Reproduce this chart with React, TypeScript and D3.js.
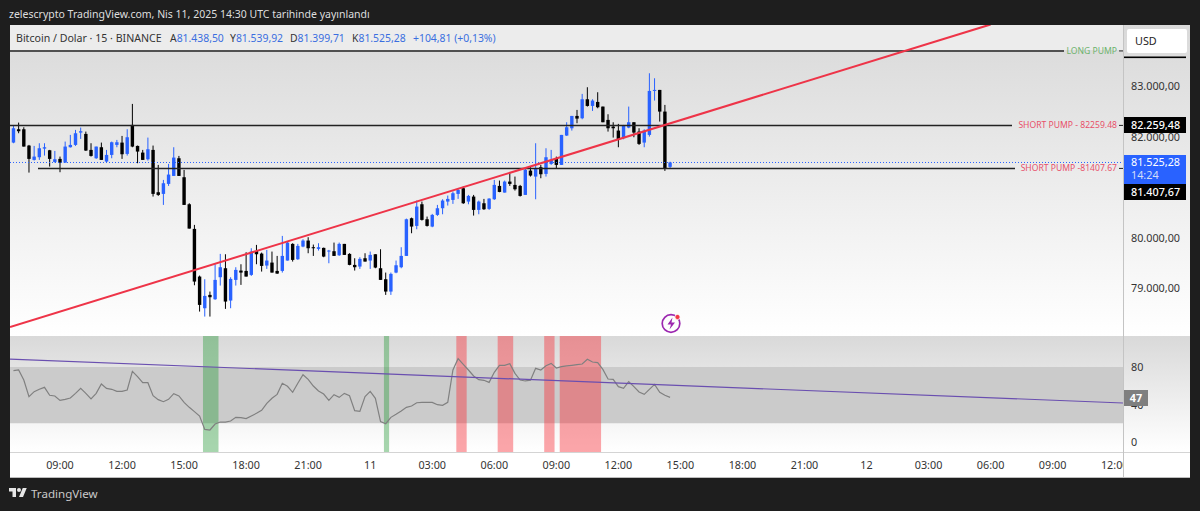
import React from "react";
import * as d3 from "d3";

// Bitcoin / Dolar, 15 min candles from Apr 10 06:45 to Apr 11 14:30 UTC
const firstCandle = new Date(Date.UTC(2025, 3, 10, 6, 45));

const opens = [
  81919, 82183, 82183, 81860, 81576, 81629, 81800, 81767, 81536, 81596,
  81523, 81827, 81873, 82117, 82091, 81774, 81609, 81827, 81543, 81675,
  81873, 81919, 81695, 82269, 81853, 81721, 81589, 81774, 80936, 80903,
  81101, 81259, 81609, 81233, 80698, 80210, 79266, 78639, 78903,
  78817, 79253, 79431, 78791, 79200, 79385, 79378, 79299, 79774, 79721,
  79484, 79543, 79378, 79378, 79583, 79913, 79609, 79860, 79979, 79847,
  79814, 79834, 79761, 79768, 79688, 79913, 79715, 79497, 79464, 79629,
  79583, 79708, 79431, 79213, 78969, 79345, 79451, 79675, 80421, 80269,
  80698, 80401, 80256, 80487, 80619, 80751, 80784, 80903, 81015, 80751,
  80850, 80586, 80718, 80606, 80797, 81061, 80929, 81147, 81081, 81061,
  80883, 81365, 81246, 81431, 81299, 81497, 81596, 81477, 82058, 82203,
  82447, 82401, 82777, 82645, 82724, 82632, 82368, 82236, 82157, 82005,
  82216, 82322, 82137, 81919, 82071, 82942, 82962, 82533, 81438.5,
];
const highs = [
  82249, 82315, 82223, 81873, 81853, 81906, 81906, 81774, 81754, 81642,
  81939, 82071, 82170, 82216, 82137, 81906, 81840, 81919, 81774, 81939,
  81972, 82051, 82183, 82685, 81860, 81774, 82018, 81860, 81477, 81180,
  81497, 81827, 81655, 81378, 80718, 80289, 79286, 79213, 78969,
  79510, 79715, 79708, 79253, 79451, 79510, 79748, 79827, 79893, 79741,
  79794, 79761, 79675, 80071, 79959, 79926, 79913, 80005, 80045, 79900,
  79926, 79840, 79794, 79939, 79939, 79913, 79728, 79629, 79649, 79728,
  79761, 79708, 79807, 79345, 79345, 79583, 79847, 80414, 80434, 80771,
  80751, 80454, 80507, 80685, 80797, 80870, 80949, 81002, 81048, 80883,
  80883, 80771, 80804, 80817, 81180, 81167, 81167, 81312, 81246, 81081,
  81411, 81444, 81906, 81477, 81807, 81774, 81642, 82071, 82322, 82447,
  82566, 82883, 83015, 82777, 82916, 82632, 82480, 82322, 82289, 82269,
  82632, 82322, 82203, 82183, 83292, 83193, 82962, 82665, 81539.92,
];
const lows = [
  81906, 82104, 81840, 81325, 81563, 81576, 81662, 81444, 81523, 81332,
  81523, 81820, 81853, 81992, 81754, 81642, 81596, 81576, 81530, 81609,
  81827, 81596, 81662, 81827, 81510, 81576, 81563, 80850, 80863, 80685,
  81061, 81259, 81259, 80685, 80216, 79094, 78573, 78474, 78474,
  78804, 79088, 78626, 78639, 79088, 79101, 79266, 79279, 79510, 79365,
  79418, 79345, 79319, 79345, 79583, 79563, 79596, 79847, 79728, 79675,
  79781, 79649, 79530, 79675, 79675, 79695, 79490, 79385, 79418, 79563,
  79418, 79431, 79200, 78903, 78903, 79332, 79431, 79675, 80124, 80203,
  80375, 80256, 80243, 80467, 80500, 80672, 80705, 80804, 80705, 80698,
  80474, 80500, 80586, 80586, 80784, 80936, 80929, 81061, 80969, 80850,
  80883, 81246, 80797, 81213, 81246, 81477, 81411, 81477, 82051, 82157,
  82302, 82381, 82632, 82546, 82599, 82322, 82137, 82018, 81827, 81985,
  82203, 82025, 81873, 81827, 82038, 82751, 82335, 81358, 81399.71,
];
const closes = [
  82203, 82144, 81840, 81596, 81642, 81807, 81827, 81596, 81589, 81523,
  81840, 81873, 82104, 82144, 81761, 81655, 81840, 81576, 81675, 81926,
  81926, 81688, 82025, 81840, 81741, 81576, 81787, 80903, 80883, 81114,
  81286, 81622, 81259, 80685, 80216, 79167, 78705, 78883, 78857,
  79200, 79451, 78771, 79220, 79398, 79345, 79266, 79761, 79708, 79477,
  79583, 79345, 79325, 79675, 79939, 79596, 79873, 79979, 79827, 79827,
  79847, 79662, 79781, 79675, 79913, 79695, 79497, 79451, 79616, 79563,
  79695, 79444, 79200, 78969, 79319, 79490, 79675, 80401, 80256, 80652,
  80388, 80269, 80487, 80619, 80771, 80804, 80916, 80982, 80718, 80863,
  80586, 80751, 80599, 80810, 81081, 80942, 81147, 81101, 80995, 80863,
  81378, 81266, 81411, 81292, 81629, 81576, 81477, 82071, 82223, 82447,
  82394, 82777, 82645, 82751, 82619, 82322, 82203, 82203, 81985, 82262,
  82322, 82117, 81893, 82157, 82942, 82962, 82533, 81411, 81525.28,
];

const rsiValues = [
  76.1, 76.8, 66.1, 48.4, 53.7, 56.2, 58.3, 49.8, 49.1, 44.4,
  45.5, 46.9, 51.9, 57.2, 51.9, 45.9, 51.9, 61.9, 57.2, 56.2,
  54.0, 54.0, 55.5, 75.4, 69.7, 63.3, 63.3, 49.4, 45.2, 43.0,
  45.5, 51.6, 49.1, 42.3, 37.0, 32.4, 27.7, 13.5, 12.8, 19.2,
  21.3, 21.3, 22.4, 26.3, 26.0, 24.9, 27.7, 30.6, 33.8, 41.2,
  46.6, 50.8, 62.6, 59.4, 53.0, 62.6, 71.8, 66.8, 59.7, 54.4,
  51.2, 44.4, 50.5, 47.6, 51.9, 49.4, 33.4, 32.7, 48.4, 54.0,
  46.6, 21.7, 19.5, 26.3, 29.5, 33.1,
  37.0, 38.4, 41.9, 42.3, 42.3, 42.3, 39.8, 39.1, 42.3, 76.8,
  88.9, 82.8, 76.8, 70.4, 66.5, 65.8, 63.6, 74.3, 81.8, 81.8,
  83.6, 73.2, 66.1, 65.1, 65.8, 78.6, 76.8, 81.4, 83.9, 78.9,
  80.4, 81.1, 81.8, 82.5, 83.2, 88.2, 85.3, 84.6, 77.5, 67.2,
  66.8, 59.0, 57.2, 64.4, 59.0, 53.3, 50.8, 56.2, 61.5, 53.0,
  49.8, 47.6,
];

// [first candle, candle count]
const greenSpans = [[37, 3], [72, 1]];
const redSpans = [[86, 2], [94, 3], [103, 2], [106, 8]];

const priceTicks = [83000, 82000, 80000, 79000];
const rsiTicks = [80, 40, 0];
const longPump = 83734;
const shortPumpHigh = 82259.48;
const shortPumpLow = 81407.67;
const lastPrice = 81525.28;

const trendTimes = [new Date(Date.UTC(2025, 3, 10, 6, 35)), new Date(Date.UTC(2025, 3, 12, 6, 0))];
const trendPrices = [78267, 84259];
const rsiTrendTimes = [new Date(Date.UTC(2025, 3, 10, 6, 35)), new Date(Date.UTC(2025, 3, 12, 12, 24))];
const rsiTrendValues = [88.5, 41.6];

const headerValues = [
  { key: "A", value: "81.438,50", x: 170 },
  { key: "Y", value: "81.539,92", x: 230 },
  { key: "D", value: "81.399,71", x: 290 },
  { key: "K", value: "81.525,28", x: 352 },
];

const font = '"Noto Sans", "Open Sans", sans-serif';
const blue = "#2962ff";

const trLocale = d3.formatLocale({ decimal: ",", thousands: ".", grouping: [3], currency: ["", ""] });
const fmtPrice = trLocale.format(",.2f");

export default function App() {
  const left = 10;
  const axisX = 1123;
  const right = 1190;
  const top = 25;
  const paneTop = 336;
  const paneBottom = 452;
  const bottom = 477;

  const x = d3
    .scaleUtc()
    .domain([new Date(Date.UTC(2025, 3, 10, 9)), new Date(Date.UTC(2025, 3, 12, 12))])
    .range([60, 1114.7]);
  const y = d3.scaleLinear().domain([79000, 83000]).range([290, 88]);
  const rsiY = d3.scaleLinear().domain([0, 80]).range([442, 367]);

  const candleTime = (i: number) => d3.utcMinute.offset(firstCandle, i * 15);
  const barStep = x(candleTime(1)) - x(candleTime(0));
  const bodyW = 3.4;

  const rsiLine = d3
    .line<number>()
    .x((_, i) => x(candleTime(i)))
    .y((d) => rsiY(d));

  const timeTicks = d3.utcHour.every(3)!.range(x.domain()[0], d3.utcMinute.offset(x.domain()[1], 1));
  const timeLabel = (d: Date) =>
    d.getUTCHours() === 0 ? String(d.getUTCDate()) : d3.utcFormat("%H:%M")(d);

  const spanRect = (s: number[], fill: string, key: string) => (
    <rect
      key={key}
      x={x(candleTime(s[0])) - barStep / 2 + 0.8}
      y={paneTop}
      width={s[1] * barStep}
      height={paneBottom - paneTop}
      fill={fill}
      fillOpacity={0.42}
    />
  );

  return (
    <svg width={1200} height={511} style={{ display: "block", fontFamily: font }}>
      <style>{`body{margin:0;background:#1e1e1e}`}</style>
      <defs>
        <linearGradient id="paneFade" x1="0" y1="0" x2="0" y2="1">
          <stop offset="0%" stopColor="#d9d9d9" />
          <stop offset="100%" stopColor="#ffffff" />
        </linearGradient>
        <clipPath id="chartClip">
          <rect x={left} y={top} width={axisX - left} height={paneTop - top} />
        </clipPath>
        <clipPath id="timeClip">
          <rect x={left} y={paneBottom} width={axisX - left} height={bottom - paneBottom} />
        </clipPath>
      </defs>

      <rect width={1200} height={511} fill="#1e1e1e" />
      <text x={9} y={18} fontSize={10.5} fill="#dedede">
        zelescrypto TradingView.com, Nis 11, 2025 14:30 UTC tarihinde yayınlandı
      </text>

      {/* panel backgrounds */}
      <rect x={left} y={top} width={right - left} height={bottom - top} fill="#ffffff" />
      <rect x={left} y={top} width={right - left} height={paneTop - top} fill="url(#paneFade)" />
      <rect x={left} y={paneTop} width={right - left} height={paneBottom - paneTop} fill="url(#paneFade)" />
      <rect x={left} y={top} width={axisX - left} height={25} fill="#ececec" />
      <rect x={left} y={rsiY(80)} width={axisX - left} height={rsiY(20) - rsiY(80)} fill="#cbcbcb" />
      <line x1={left} x2={right} y1={paneBottom + 0.5} y2={paneBottom + 0.5} stroke="#d4d4d4" />
      <line x1={axisX + 0.5} x2={axisX + 0.5} y1={top} y2={bottom} stroke="#c4c4c4" />
      <rect x={left} y={bottom} width={right - left} height={1} fill="#bdbdbd" />

      {/* candles */}
      <g clipPath="url(#chartClip)">
        {opens.map((o, i) => {
          const c = closes[i];
          const color = c >= o ? blue : "#000000";
          const cx = x(candleTime(i));
          return (
            <g key={i}>
              <line x1={cx} x2={cx} y1={y(highs[i])} y2={y(lows[i])} stroke={color} strokeWidth={1} />
              <rect
                x={cx - bodyW / 2}
                y={y(Math.max(o, c))}
                width={bodyW}
                height={Math.max(1, Math.abs(y(o) - y(c)))}
                fill={color}
              />
            </g>
          );
        })}

        {/* last price and level lines */}
        <line x1={left} x2={axisX} y1={y(lastPrice)} y2={y(lastPrice)} stroke={blue} strokeDasharray="1 2" strokeWidth={1} />
        <line x1={left} x2={1064} y1={y(longPump)} y2={y(longPump)} stroke="#222" strokeWidth={1.5} />
        <line x1={left} x2={1012} y1={y(shortPumpHigh)} y2={y(shortPumpHigh)} stroke="#222" strokeWidth={1.5} />
        <line x1={38} x2={1015} y1={y(shortPumpLow)} y2={y(shortPumpLow)} stroke="#222" strokeWidth={1.5} />
        {[longPump, shortPumpHigh, shortPumpLow].map((p) => (
          <line key={p} x1={1119} x2={axisX} y1={y(p)} y2={y(p)} stroke="#222" strokeWidth={1} />
        ))}

        {/* trend line */}
        <line
          x1={x(trendTimes[0])}
          y1={y(trendPrices[0])}
          x2={x(trendTimes[1])}
          y2={y(trendPrices[1])}
          stroke="#ee3448"
          strokeWidth={2}
        />
      </g>

      <text x={1117} y={y(longPump) + 3} textAnchor="end" fontSize={8.6} fill="#6db36d">LONG PUMP</text>
      <text x={1117} y={y(shortPumpHigh) + 3} textAnchor="end" fontSize={8.6} fill="#e8506a">SHORT PUMP - 82259.48</text>
      <text x={1117} y={y(shortPumpLow) + 3} textAnchor="end" fontSize={8.6} fill="#e8506a">SHORT PUMP -81407.67</text>

      {/* header */}
      <text x={16} y={42} fontSize={10.6} fill="#333">Bitcoin / Dolar · 15 · BINANCE</text>
      {headerValues.map((h) => (
        <text key={h.key} x={h.x} y={42} fontSize={10.4} fill="#333">
          {h.key}
          <tspan fill="#3a6ee0">{h.value}</tspan>
        </text>
      ))}
      <text x={413} y={42} fontSize={10.4} fill="#3a6ee0">+104,81 (+0,13%)</text>

      {/* flash icon */}
      <g>
        <circle cx={671} cy={323.5} r={8.8} fill="none" stroke="#9c27b0" strokeWidth={1.7} />
        <path d="M672.5 317.5 L667.5 324.5 H671 L669.5 329.5 L675 322.5 H671.5 Z" fill="#9c27b0" />
        <circle cx={677.5} cy={317} r={2.6} fill="#f23645" stroke="#ffffff" strokeWidth={0.8} />
      </g>

      {/* RSI pane */}
      {greenSpans.map((s, i) => spanRect(s, "#2e9e3e", `g${i}`))}
      {redSpans.map((s, i) => spanRect(s, "#f72b34", `r${i}`))}
      <path d={rsiLine(rsiValues) ?? ""} fill="none" stroke="#808080" strokeWidth={1.2} />
      <line
        x1={x(rsiTrendTimes[0])}
        y1={rsiY(rsiTrendValues[0])}
        x2={x(rsiTrendTimes[1])}
        y2={rsiY(rsiTrendValues[1])}
        stroke="#6a4fb0"
        strokeWidth={1.2}
      />

      {/* price axis */}
      {priceTicks.map((p) => (
        <text key={p} x={1131} y={y(p) + 2} fontSize={10.8} fill="#333">{fmtPrice(p)}</text>
      ))}
      <rect x={1124} y={56.5} width={62} height={1.6} fill="#000" />
      <rect x={1127} y={29} width={60} height={24} rx={2} fill="#ffffff" />
      <text x={1135} y={45} fontSize={10.8} fill="#222">USD</text>

      <rect x={1124} y={117} width={62} height={16} fill="#000" />
      <text x={1131} y={129} fontSize={10.8} fontWeight={500} fill="#fff">{fmtPrice(shortPumpHigh)}</text>
      <rect x={1124} y={155} width={62} height={29} fill={blue} />
      <text x={1131} y={166} fontSize={10.8} fill="#fff">{fmtPrice(lastPrice)}</text>
      <text x={1131} y={179} fontSize={10.8} fill="#d3ddf8">14:24</text>
      <rect x={1124} y={184} width={62} height={16} fill="#000" />
      <text x={1131} y={196} fontSize={10.8} fontWeight={500} fill="#fff">{fmtPrice(shortPumpLow)}</text>

      {rsiTicks.map((t) => (
        <text key={t} x={1131} y={rsiY(t) + 4} fontSize={10.8} fill="#333">{t}</text>
      ))}
      <rect x={1124} y={390} width={24} height={16} fill="#7f7f7f" />
      <text x={1136} y={402} textAnchor="middle" fontSize={10.8} fontWeight={700} fill="#fff">47</text>

      {/* time axis */}
      <g clipPath="url(#timeClip)">
        {timeTicks.map((d) => (
          <text key={+d} x={x(d)} y={469} textAnchor="middle" fontSize={10.8} fill="#333">
            {timeLabel(d)}
          </text>
        ))}
      </g>

      {/* footer logo */}
      <g transform="translate(9,486) scale(0.5)" fill="#e6e6e6">
        <path d="M14 22H7V11H0V4h14v18zM28 22h-8l7.5-18h8L28 22z" />
        <circle cx={20} cy={8} r={4} />
      </g>
      <text x={31} y={498} fontSize={11.6} fill="#c9c9c9">TradingView</text>
    </svg>
  );
}
